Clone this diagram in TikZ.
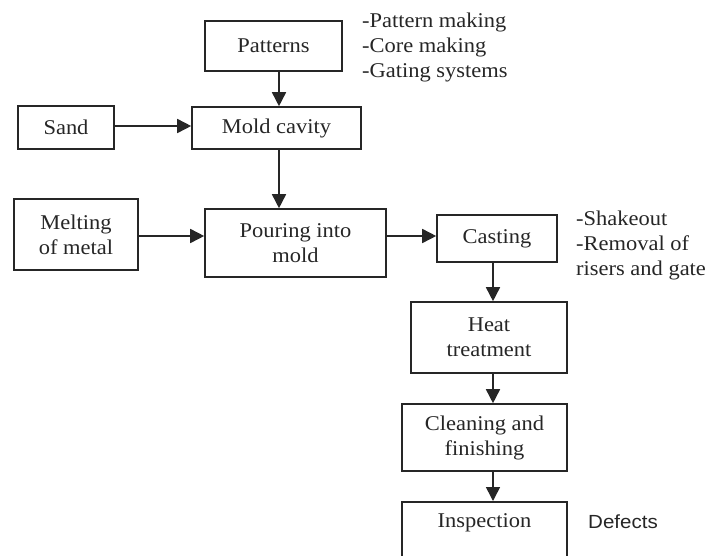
\documentclass[tikz,border=0pt]{standalone}
\usepackage{fontspec}
\setmainfont[FakeStretch=1.07]{Liberation Serif}
\newfontfamily\defsans[FakeStretch=1.08]{Liberation Sans}
\usetikzlibrary{arrows.meta}
\begin{document}
\begin{tikzpicture}[x=1pt,y=-1pt,
  box/.style={draw=black!85, line width=1.6pt, inner sep=0pt, align=center,
    font=\fontsize{21}{25}\selectfont, text=black!85},
  arr/.style={draw=black!85, line width=1.6pt, -{Triangle[length=14pt,width=14pt]}},
  note/.style={anchor=base west, inner sep=0pt, font=\fontsize{21}{25}\selectfont, text=black!85}]
\useasboundingbox[fill=white] (0,0) rectangle (713,555);
% boxes
\node[box, minimum width=137pt, minimum height=50pt] (pat) at (273.5,46) {Patterns};
\node[box, minimum width=96pt, minimum height=43pt] (sand) at (66,127.5) {Sand};
\node[box, minimum width=169pt, minimum height=42pt] (mold) at (276.5,128) {Mold cavity};
\node[box, minimum width=124pt, minimum height=71pt] (melt) at (76,234.5) {Melting\\of metal};
\node[box, minimum width=181pt, minimum height=68pt] (pour) at (295.5,243) {Pouring into\\mold};
\node[box, minimum width=120pt, minimum height=47pt] (cast) at (497,238.5) {Casting};
\node[box, minimum width=156pt, minimum height=71pt] (heat) at (489,337.5) {Heat\\treatment};
\node[box, minimum width=165pt, minimum height=67pt] (clean) at (484.5,437.5) {Cleaning and\\finishing};
\node[box, anchor=north, minimum width=165pt, text height=26pt, text depth=43pt] (insp) at (484.5,501) {Inspection};
% notes
\node[note] (n1) at (362,27) {-Pattern making};
\node[note] (n2) at (362,52) {-Core making};
\node[note] (n3) at (362,77) {-Gating systems};
\node[note] (s1) at (576,225) {-Shakeout};
\node[note] (s2) at (576,250) {-Removal of};
\node[note] (s3) at (576,275) {risers and gate};
\node[note, font=\defsans\fontsize{19}{24}\selectfont] (def) at (588,528) {Defects};
% connectors
\coordinate (vx) at (493,0);
\coordinate (hy) at (0,236);
\coordinate (sy) at (0,126);
\draw[arr] (sand.east |- sy) -- (mold.west |- sy);
\draw[arr] ([xshift=5.5pt]pat.south) -- ([xshift=5.5pt]pat.south |- mold.north);
\draw[arr] ([xshift=2.5pt]mold.south) -- ([xshift=2.5pt]mold.south |- pour.north);
\draw[arr] (melt.east |- hy) -- (pour.west |- hy);
\draw[arr] (pour.east |- hy) -- (cast.west |- hy);
\draw[arr] (cast.south -| vx) -- (heat.north -| vx);
\draw[arr] (heat.south -| vx) -- (clean.north -| vx);
\draw[arr] (clean.south -| vx) -- (insp.north -| vx);
\end{tikzpicture}
\end{document}
